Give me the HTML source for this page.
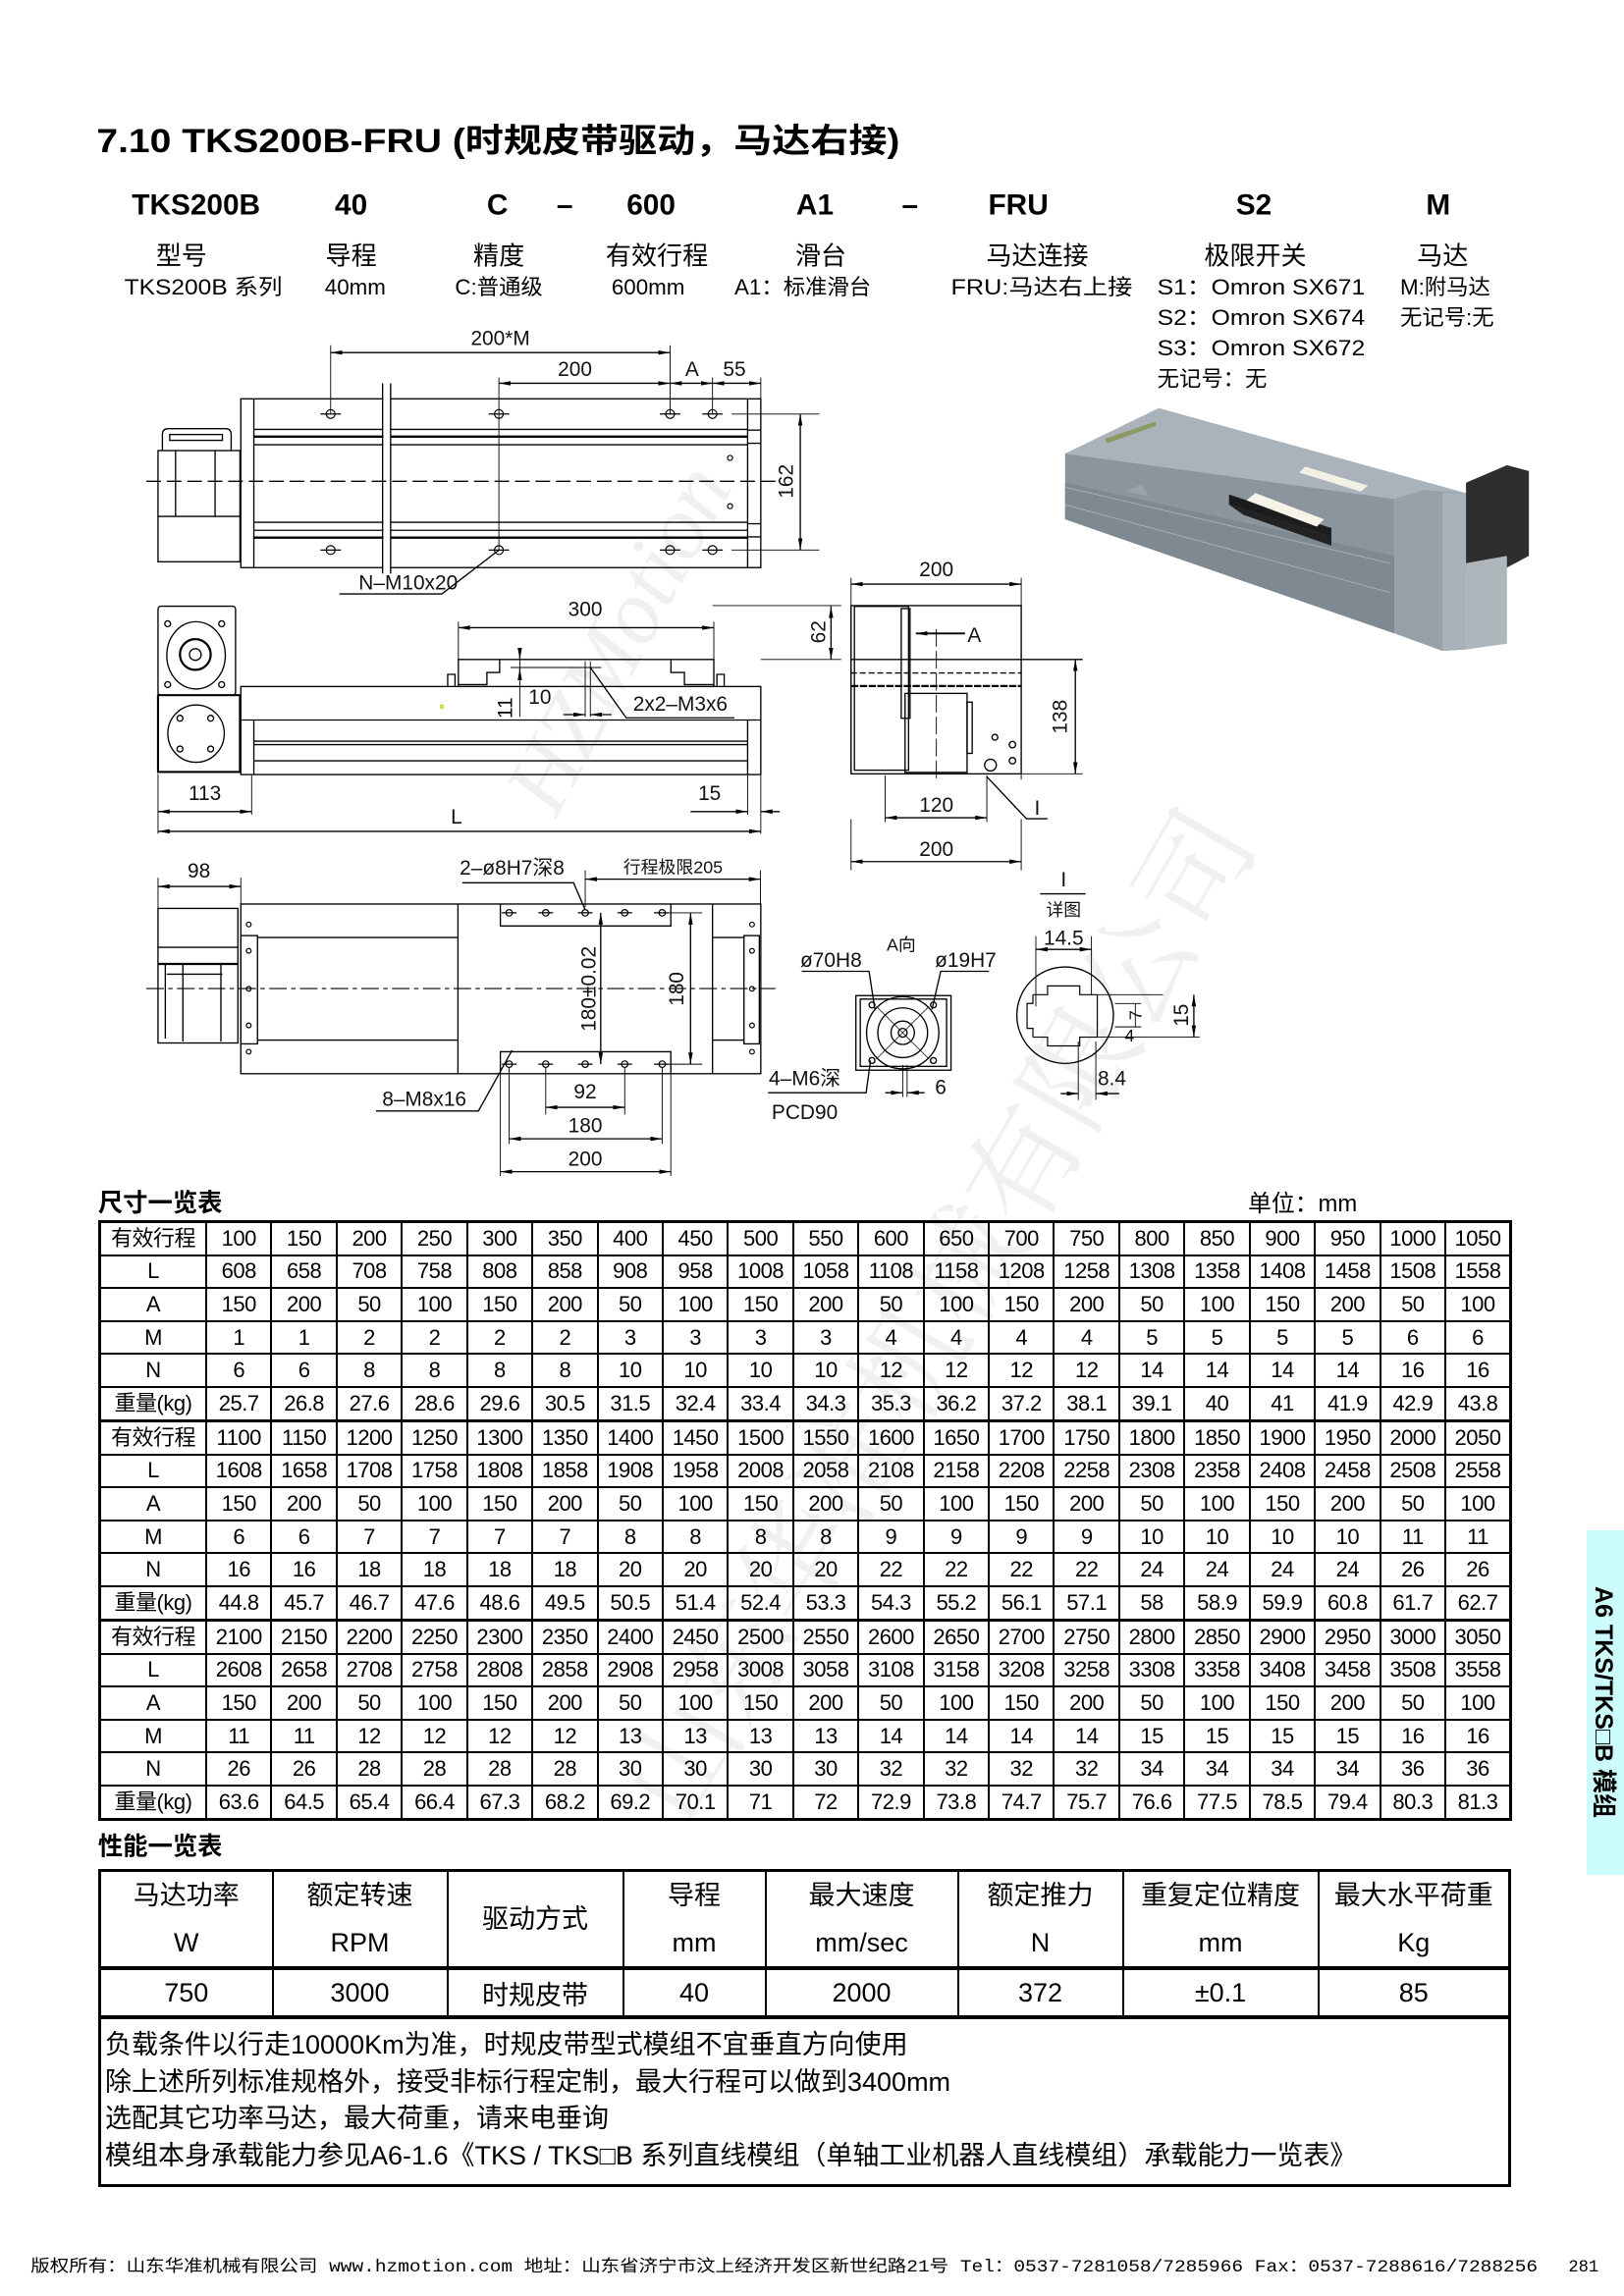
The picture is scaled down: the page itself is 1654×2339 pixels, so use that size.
<!DOCTYPE html>
<html><head><meta charset="utf-8">
<style>
html,body{margin:0;padding:0;background:#fff;}
#pg{position:relative;width:1654px;height:2339px;overflow:hidden;background:#fff;font-family:"Liberation Sans","Noto Sans CJK SC",sans-serif;color:#000;}
svg{position:absolute;left:0;top:0;}
table{position:absolute;border-collapse:collapse;font-family:"Liberation Sans","Noto Sans CJK SC",sans-serif;}
.dt{left:100px;width:1440px;border:3px solid #000;table-layout:fixed;font-size:22px;}
.dt td{border:2px solid #000;text-align:center;padding:0;height:31.6px;line-height:20px;white-space:nowrap;letter-spacing:-0.5px;}
.dt td:first-child{width:106px;}
.pt{left:100px;top:1904px;width:1436px;border:3px solid #000;table-layout:fixed;font-size:27px;}
.pt td{border:2px solid #000;text-align:center;padding:0;}
.pt tr.h td{height:96px;line-height:48px;}
.pt tr.v td{height:46px;border-top:4px solid #000;}
.pt tr.n td{height:160px;text-align:left;vertical-align:top;padding:8px 0 0 4px;line-height:37.5px;border-top:4px solid #000;font-size:27px;}
#tab{position:absolute;left:1616px;top:1559px;width:38px;height:351px;background:#ccfbfb;}
#tab div{position:absolute;left:19px;top:175px;transform:translate(-50%,-50%) rotate(90deg);white-space:nowrap;font-size:25px;font-weight:bold;}
</style></head><body><div id="pg">

<svg width="1654" height="2339" viewBox="0 0 1110 1569.6" font-family="Liberation Sans, Noto Sans CJK SC, sans-serif">
<defs>
<marker id="ar" markerUnits="userSpaceOnUse" markerWidth="8" markerHeight="3" refX="8" refY="1.5" orient="auto-start-reverse"><path d="M0,0 L8,1.5 L0,3 z" fill="#000"/></marker>
</defs>
<!-- watermark -->
<g fill="#f0f0f0" font-family="Liberation Serif, Noto Serif CJK SC, serif" font-style="italic">
<text x="0" y="0" font-size="62" transform="translate(380,560) rotate(-62)">HZMotion</text>
<text x="0" y="0" font-size="78" transform="translate(470,1250) rotate(-60)" font-style="normal">山东华准机械有限公司</text>
</g>

<!-- header -->
<text x="66" y="104" font-size="23" font-weight="bold" textLength="549" lengthAdjust="spacingAndGlyphs">7.10 TKS200B-FRU (时规皮带驱动，马达右接)</text>
<g font-size="20" font-weight="bold" text-anchor="middle">
<text x="134" y="146.5">TKS200B</text><text x="240" y="146.5">40</text><text x="340" y="146.5">C</text><text x="386" y="146.5">–</text><text x="445" y="146.5">600</text><text x="557" y="146.5">A1</text><text x="622" y="146.5">–</text><text x="696" y="146.5">FRU</text><text x="857" y="146.5">S2</text><text x="983" y="146.5">M</text>
</g>
<g font-size="17.5" text-anchor="middle">
<text x="124" y="180.7">型号</text><text x="240" y="180.7">导程</text><text x="341" y="180.7">精度</text><text x="449" y="180.7">有效行程</text><text x="561" y="180.7">滑台</text><text x="709" y="180.7">马达连接</text><text x="858" y="180.7">极限开关</text><text x="986" y="180.7">马达</text>
</g>
<g font-size="15">
<text x="85" y="201.3" textLength="108" lengthAdjust="spacingAndGlyphs">TKS200B 系列</text><text x="222" y="201.3">40mm</text><text x="311" y="201.3">C:普通级</text><text x="418" y="201.3">600mm</text><text x="502" y="201.3">A1：标准滑台</text><text x="650" y="201.3" textLength="124" lengthAdjust="spacingAndGlyphs">FRU:马达右上接</text>
<text x="791" y="201.3" textLength="142" lengthAdjust="spacingAndGlyphs">S1：Omron SX671</text>
<text x="791" y="222" textLength="142" lengthAdjust="spacingAndGlyphs">S2：Omron SX674</text>
<text x="791" y="243" textLength="142" lengthAdjust="spacingAndGlyphs">S3：Omron SX672</text>
<text x="791" y="264">无记号：无</text>
<text x="957" y="201.3">M:附马达</text><text x="957" y="222">无记号:无</text>
</g>

<g fill="none" stroke="#000" stroke-width="0.9">
<!-- ===== top view ===== -->
<path d="M111,308 L111,297 Q111,293 115,293 L154,293 Q158,293 158,297 L158,308"/>
<rect x="116" y="297" width="36" height="4"/>
<rect x="108" y="308" width="56" height="76"/>
<line x1="108" y1="353" x2="164" y2="353"/>
<line x1="120" y1="308" x2="120" y2="353"/><line x1="147" y1="308" x2="147" y2="353"/>
<rect x="164.6" y="272.6" width="355.4" height="115.4"/>
<line x1="173.5" y1="272.6" x2="173.5" y2="388"/><line x1="511" y1="272.6" x2="511" y2="388"/>
<line x1="173.5" y1="293.5" x2="511" y2="293.5"/><line x1="173.5" y1="298.5" x2="511" y2="298.5" stroke-width="1.6"/><line x1="173.5" y1="304" x2="511" y2="304"/>
<line x1="173.5" y1="357" x2="511" y2="357"/><line x1="173.5" y1="362.5" x2="511" y2="362.5"/><line x1="173.5" y1="367.5" x2="511" y2="367.5" stroke-width="1.6"/>
<line x1="511" y1="294" x2="520" y2="294"/><line x1="511" y1="303" x2="520" y2="303"/><line x1="511" y1="358" x2="520" y2="358"/><line x1="511" y1="367" x2="520" y2="367"/>
<rect x="262" y="262" width="5" height="130" fill="#fff" stroke="none"/>
<line x1="261.5" y1="262" x2="261.5" y2="392"/><line x1="267" y1="262" x2="267" y2="392"/>
<g stroke-width="0.8">
<circle cx="226" cy="283" r="3"/><circle cx="341" cy="283" r="3"/><circle cx="458" cy="283" r="3"/><circle cx="487" cy="283" r="3"/>
<circle cx="226" cy="376" r="3"/><circle cx="341" cy="376" r="3"/><circle cx="458" cy="376" r="3"/><circle cx="487" cy="376" r="3"/>
<path d="M219,283h14M334,283h14M451,283h14M480,283h14M219,376h14M334,376h14M451,376h14M480,376h14"/>
<circle cx="499" cy="313" r="1.7"/><circle cx="499" cy="346" r="1.7"/>
</g>
<line x1="100" y1="329" x2="532" y2="329" stroke-dasharray="10,4"/>
<path d="M226,236V283M341,258V376M458,236V283M487,258V283M520,258V273M500,283H560M500,376H560" stroke-width="0.6"/>
<line x1="226" y1="241" x2="458" y2="241" marker-start="url(#ar)" marker-end="url(#ar)"/>
<line x1="341" y1="262" x2="458" y2="262" marker-start="url(#ar)" marker-end="url(#ar)"/>
<line x1="458" y1="262" x2="487" y2="262" marker-start="url(#ar)" marker-end="url(#ar)"/>
<line x1="487" y1="262" x2="520" y2="262" marker-start="url(#ar)" marker-end="url(#ar)"/>
<line x1="547" y1="283" x2="547" y2="376" marker-start="url(#ar)" marker-end="url(#ar)"/>
<path d="M341,376 L302,406 L232,406"/>

<!-- ===== side view ===== -->
<rect x="108" y="414.4" width="53" height="60.8" rx="2"/>
<ellipse cx="134" cy="448" rx="20" ry="23"/>
<circle cx="133.5" cy="447.4" r="10.5" stroke-width="1.5"/><circle cx="133.5" cy="447.4" r="4"/>
<circle cx="114.6" cy="426.4" r="2"/><circle cx="151.5" cy="426.4" r="2"/><circle cx="114.6" cy="468" r="2"/><circle cx="151.5" cy="468" r="2"/>
<rect x="108" y="475.2" width="56" height="52.5" stroke-width="1.4"/>
<ellipse cx="134" cy="501.5" rx="19.3" ry="19.6"/>
<circle cx="123" cy="491" r="2"/><circle cx="144" cy="491" r="2"/><circle cx="123" cy="512" r="2"/><circle cx="144" cy="512" r="2"/>
<rect x="164.6" y="469.3" width="355.4" height="60.2"/>
<line x1="164.6" y1="492.2" x2="520" y2="492.2"/>
<line x1="173.5" y1="506.7" x2="511" y2="506.7"/><line x1="173.5" y1="509" x2="511" y2="509"/><line x1="173.5" y1="520.1" x2="511" y2="520.1"/>
<line x1="173.5" y1="492.2" x2="173.5" y2="529.5"/><line x1="511" y1="492.2" x2="511" y2="529.5"/>
<path d="M313.3,469.3 V450.8 H487.9 V469.3"/>
<path d="M313.3,468 H332.8 V459.7 H341.5 V450.8 M458.6,450.8 V459.7 H467.8 V468 H487.9"/>
<path d="M306,469 v-8 h5 v8 M490,469 v-8 h5 v8"/>
<circle cx="302" cy="483" r="1" stroke="#cc0"/>
<path d="M313.3,425V450.8M487.9,425V450.8M487,414H575M520,450.8H575M400,452V490M403.5,452V490M349,456.3H411M355.3,443V490" stroke-width="0.6"/>
<line x1="313.3" y1="429.1" x2="487.9" y2="429.1" marker-start="url(#ar)" marker-end="url(#ar)"/>
<line x1="568" y1="414.4" x2="568" y2="450.8" marker-start="url(#ar)" marker-end="url(#ar)"/>
<line x1="355.3" y1="443" x2="355.3" y2="450.8" marker-end="url(#ar)"/><line x1="355.3" y1="465" x2="355.3" y2="457" marker-end="url(#ar)"/>
<line x1="385" y1="488.5" x2="400" y2="488.5" marker-end="url(#ar)"/><line x1="418" y1="488.5" x2="403.5" y2="488.5" marker-end="url(#ar)"/>
<path d="M403.5,456.3 L428,490.7 H502"/>
<path d="M108,529V570M172,530V557M511,530V557M520,530V570" stroke-width="0.6"/>
<line x1="108" y1="554.8" x2="172" y2="554.8" marker-start="url(#ar)" marker-end="url(#ar)"/>
<line x1="108" y1="568.3" x2="520" y2="568.3" marker-start="url(#ar)" marker-end="url(#ar)"/>
<line x1="472" y1="554.8" x2="511" y2="554.8" marker-end="url(#ar)"/><line x1="533" y1="554.8" x2="520" y2="554.8" marker-end="url(#ar)"/>

<!-- ===== front view ===== -->
<rect x="581.7" y="414" width="116.3" height="115"/>
<rect x="584" y="414.5" width="37" height="112"/>
<rect x="616" y="416" width="6" height="75"/>
<rect x="618.6" y="474" width="42.4" height="54"/>
<rect x="661" y="480" width="3.5" height="35"/>
<line x1="581.7" y1="450.8" x2="740" y2="450.8"/>
<line x1="581.7" y1="460" x2="698" y2="460" stroke-dasharray="4,2"/>
<line x1="581.7" y1="469" x2="698" y2="469" stroke-dasharray="5,1" stroke-width="1.5"/>
<line x1="640" y1="430" x2="640" y2="535" stroke-dasharray="12,3" stroke-width="0.6"/>
<circle cx="692" cy="509" r="2.2"/><circle cx="692" cy="520" r="2.2"/><circle cx="677" cy="523" r="4"/><circle cx="680" cy="504" r="2"/>
<path d="M581.7,395V529M698,395V533M605,530V562M674.5,530V562M581.7,560V595M698,560V595M698,529H740" stroke-width="0.6"/>
<line x1="581.7" y1="399.3" x2="698" y2="399.3" marker-start="url(#ar)" marker-end="url(#ar)"/>
<line x1="605" y1="559" x2="674.5" y2="559" marker-start="url(#ar)" marker-end="url(#ar)"/>
<line x1="581.7" y1="589" x2="698" y2="589" marker-start="url(#ar)" marker-end="url(#ar)"/>
<line x1="735" y1="450.8" x2="735" y2="529" marker-start="url(#ar)" marker-end="url(#ar)"/>
<line x1="659.6" y1="433" x2="626" y2="433" marker-end="url(#ar)" stroke-width="1.3"/>
<path d="M674.5,531 L701.6,559.7 H716"/>

<!-- ===== bottom view ===== -->
<rect x="108" y="621" width="54.6" height="92"/>
<line x1="108" y1="647.6" x2="162.6" y2="647.6"/><line x1="108" y1="659" x2="162.6" y2="659" stroke-width="1.5"/>
<path d="M113,659 V710 M125,659 V712 M151,659 V712 M114,666 H152"/>
<rect x="164.6" y="618" width="355.4" height="116"/>
<rect x="164.6" y="639.6" width="11.4" height="74"/><rect x="508.5" y="639.6" width="10.5" height="74"/>
<line x1="313" y1="618" x2="313" y2="734"/><line x1="487" y1="618" x2="487" y2="734"/>
<line x1="176" y1="640.9" x2="313" y2="640.9"/><line x1="176" y1="711" x2="313" y2="711"/>
<line x1="487" y1="640.9" x2="508.5" y2="640.9"/><line x1="487" y1="711" x2="508.5" y2="711"/>
<path d="M342,618 V633 H458.5 V618 M342,734 V719 H458.5 V734"/>
<g stroke-width="0.8">
<circle cx="348" cy="624" r="2.2"/><circle cx="373" cy="624" r="2.2"/><circle cx="400" cy="624" r="2.2"/><circle cx="427" cy="624" r="2.2"/><circle cx="452.6" cy="624" r="2.2"/>
<circle cx="348" cy="727.5" r="2.2"/><circle cx="373" cy="727.5" r="2.2"/><circle cx="400" cy="727.5" r="2.2"/><circle cx="427" cy="727.5" r="2.2"/><circle cx="452.6" cy="727.5" r="2.2"/>
<circle cx="170" cy="632" r="1.6"/><circle cx="170" cy="650" r="1.6"/><circle cx="170" cy="676" r="1.6"/><circle cx="170" cy="701" r="1.6"/><circle cx="170" cy="719" r="1.6"/>
<circle cx="514" cy="632" r="1.6"/><circle cx="514" cy="650" r="1.6"/><circle cx="514" cy="676" r="1.6"/><circle cx="514" cy="701" r="1.6"/><circle cx="514" cy="719" r="1.6"/>
<path d="M343,624h10M368,624h10M395,624h10M422,624h10M447,624h10M343,727.5h10M368,727.5h10M395,727.5h10M422,727.5h10M447,727.5h10"/>
</g>
<line x1="100" y1="675.8" x2="530" y2="675.8" stroke-dasharray="12,3,3,3" stroke-width="0.7"/>
<path d="M108,600V621M164.6,600V618M400,595V620M519.8,595V618M373,730V762M427,730V762M348,730V782M452.6,730V782M342,734V804M458.5,734V804M455,624H480M455,727.5H480" stroke-width="0.6"/>
<line x1="108" y1="606" x2="164.6" y2="606" marker-start="url(#ar)" marker-end="url(#ar)"/>
<line x1="400" y1="601" x2="519.8" y2="601" marker-start="url(#ar)" marker-end="url(#ar)"/>
<line x1="410.6" y1="624" x2="410.6" y2="727.5" marker-start="url(#ar)" marker-end="url(#ar)"/>
<line x1="472" y1="624" x2="472" y2="727.5" marker-start="url(#ar)" marker-end="url(#ar)"/>
<line x1="373" y1="757" x2="427" y2="757" marker-start="url(#ar)" marker-end="url(#ar)"/>
<line x1="348" y1="778.5" x2="452.6" y2="778.5" marker-start="url(#ar)" marker-end="url(#ar)"/>
<line x1="342" y1="801" x2="458.5" y2="801" marker-start="url(#ar)" marker-end="url(#ar)"/>
<path d="M316,603.5 H392 L400,622"/>
<path d="M257,759.5 H327 L350,718"/>

<!-- ===== A view ===== -->
<rect x="585" y="680.6" width="65" height="51"/>
<rect x="588" y="683" width="59" height="46"/>
<circle cx="617" cy="706" r="24.7"/><circle cx="617" cy="706" r="17"/><circle cx="617" cy="706" r="8"/><circle cx="617" cy="706" r="3"/>
<path d="M599,688 L635,724 M635,688 L599,724" stroke-width="0.5"/>
<circle cx="596" cy="687" r="2"/><circle cx="638" cy="687" r="2"/><circle cx="596" cy="725" r="2"/><circle cx="638" cy="725" r="2"/>
<path d="M548,664 H594 L598,690 M637,690 L643,664 H676"/>
<path d="M525,747 H592 L595,725"/>
<path d="M617,728 V750 M620,728 V750" stroke-width="0.6"/>
<line x1="605" y1="747" x2="617" y2="747" marker-end="url(#ar)"/><line x1="632" y1="747" x2="620" y2="747" marker-end="url(#ar)"/>

<!-- ===== detail I ===== -->
<line x1="711" y1="611" x2="742" y2="611"/>
<circle cx="728" cy="694" r="33"/>
<path d="M706,680 H716 V674 H738 V680 H750 M706,680 V686 H702 V703 H706 V709 M750,680 V709 M706,709 H716 V715 H738 V709 H750" stroke-width="0.8"/>
<path d="M708,640V688M746,640V680M750,680H795M750,709H820M762,686H780M762,702H780" stroke-width="0.6"/>
<line x1="708" y1="649" x2="746" y2="649" marker-start="url(#ar)" marker-end="url(#ar)"/>
<line x1="816" y1="680" x2="816" y2="709" marker-start="url(#ar)" marker-end="url(#ar)"/>
<line x1="776" y1="686" x2="776" y2="702" stroke-width="0.6"/>
<path d="M737,712V752M749,712V752" stroke-width="0.6"/>
<line x1="725" y1="747.6" x2="737" y2="747.6" marker-end="url(#ar)"/><line x1="765" y1="747.6" x2="749" y2="747.6" marker-end="url(#ar)"/>
</g>

<!-- drawing labels -->
<g font-size="14" fill="#111" text-anchor="middle">
<text x="342" y="236">200*M</text><text x="393" y="257">200</text><text x="473" y="257">A</text><text x="502" y="257">55</text>
<text transform="translate(542,329) rotate(-90)">162</text>
<text x="279" y="403">N–M10x20</text>
<text x="400" y="421">300</text>
<text transform="translate(564,432) rotate(-90)">62</text>
<text transform="translate(350,484) rotate(-90)">11</text>
<text x="369" y="481">10</text>
<text x="465" y="486">2x2–M3x6</text>
<text x="140" y="547">113</text><text x="312" y="563">L</text><text x="485" y="547">15</text>
<text x="640" y="394">200</text><text x="640" y="554.8">120</text><text x="640" y="585">200</text>
<text transform="translate(729,490) rotate(-90)">138</text>
<text x="666" y="439">A</text><text x="709" y="557">I</text>
<text x="136" y="600">98</text>
<text x="350" y="598">2–ø8H7深8</text>
<text x="460" y="597" font-size="12">行程极限205</text>
<text transform="translate(407,676) rotate(-90)">180±0.02</text>
<text transform="translate(467,676) rotate(-90)">180</text>
<text x="290" y="755.8">8–M8x16</text>
<text x="400" y="751">92</text><text x="400" y="774">180</text><text x="400" y="797">200</text>
<text x="568" y="661">ø70H8</text><text x="616" y="650" font-size="12">A向</text><text x="660" y="661">ø19H7</text>
<text x="550" y="742">4–M6深</text><text x="550" y="765">PCD90</text><text x="643" y="748">6</text>
<text x="727" y="606">I</text><text x="727" y="626" font-size="12">详图</text><text x="727" y="646">14.5</text>
<text transform="translate(812,694) rotate(-90)">15</text>
<text transform="translate(780,694) rotate(-90)" font-size="12">7</text>
<text x="772" y="712" font-size="12">4</text>
<text x="760" y="742">8.4</text>
</g>

<!-- 3D image -->
<g stroke="none">
<polygon points="728,310 792,279 1002,337 953,341" fill="#aab3bb"/>
<polygon points="728,310 953,341 953,433 728,355" fill="#8b959d"/>
<polygon points="728,330 953,380 953,433 728,355" fill="#7f8991"/>
<polygon points="953,341 973,335 1002,337 1002,444 986,445 953,433" fill="#97a1a9"/>
<polygon points="986,337 1002,337 1002,444 986,445" fill="#a9b2b9"/>
<polygon points="1002,330 1030,318 1045,322 1045,380 1030,388 1002,390" fill="#2e2e2e"/>
<polygon points="1002,385 1030,380 1030,440 1002,444" fill="#aeb6bc"/>
<polygon points="840,338 910,361 910,367 840,345" fill="#1c1c1c"/>
<polygon points="840,345 910,367 910,373 850,352" fill="#222"/>
<polygon points="858,337 905,355 900,360 852,342" fill="#f6f4e8"/>
<polygon points="892,319 935,332 930,336 888,323" fill="#f3f1e6"/>
<polygon points="770,336 780,331 785,339" fill="#9aa3ab"/>
<line x1="728" y1="333" x2="950" y2="385" stroke="#aab2b8" stroke-width="0.6"/>
<line x1="728" y1="345" x2="950" y2="405" stroke="#aab2b8" stroke-width="0.6"/>
<polygon points="755,300 790,288 790,291 757,303" fill="#8a9a60"/>
</g>

<!-- table titles -->
<text x="67" y="828" font-size="17" font-weight="bold">尺寸一览表</text>
<text x="853" y="828" font-size="16">单位：mm</text>
<text x="67" y="1268" font-size="17" font-weight="bold">性能一览表</text>

<!-- footer -->
<text x="21" y="1553" font-size="11.5" font-family="Liberation Mono, Noto Sans CJK SC, monospace" textLength="1030" lengthAdjust="spacingAndGlyphs">版权所有：山东华准机械有限公司 www.hzmotion.com   地址：山东省济宁市汶上经济开发区新世纪路21号  Tel：0537-7281058/7285966 Fax：0537-7288616/7288256</text>
<text x="1072" y="1553" font-size="11.5" font-family="Liberation Mono, monospace">281</text>
</svg>

<table class="dt" style="top:1243px">
<tr><td>有效行程</td><td>100</td><td>150</td><td>200</td><td>250</td><td>300</td><td>350</td><td>400</td><td>450</td><td>500</td><td>550</td><td>600</td><td>650</td><td>700</td><td>750</td><td>800</td><td>850</td><td>900</td><td>950</td><td>1000</td><td>1050</td></tr>
<tr><td>L</td><td>608</td><td>658</td><td>708</td><td>758</td><td>808</td><td>858</td><td>908</td><td>958</td><td>1008</td><td>1058</td><td>1108</td><td>1158</td><td>1208</td><td>1258</td><td>1308</td><td>1358</td><td>1408</td><td>1458</td><td>1508</td><td>1558</td></tr>
<tr><td>A</td><td>150</td><td>200</td><td>50</td><td>100</td><td>150</td><td>200</td><td>50</td><td>100</td><td>150</td><td>200</td><td>50</td><td>100</td><td>150</td><td>200</td><td>50</td><td>100</td><td>150</td><td>200</td><td>50</td><td>100</td></tr>
<tr><td>M</td><td>1</td><td>1</td><td>2</td><td>2</td><td>2</td><td>2</td><td>3</td><td>3</td><td>3</td><td>3</td><td>4</td><td>4</td><td>4</td><td>4</td><td>5</td><td>5</td><td>5</td><td>5</td><td>6</td><td>6</td></tr>
<tr><td>N</td><td>6</td><td>6</td><td>8</td><td>8</td><td>8</td><td>8</td><td>10</td><td>10</td><td>10</td><td>10</td><td>12</td><td>12</td><td>12</td><td>12</td><td>14</td><td>14</td><td>14</td><td>14</td><td>16</td><td>16</td></tr>
<tr><td>重量(kg)</td><td>25.7</td><td>26.8</td><td>27.6</td><td>28.6</td><td>29.6</td><td>30.5</td><td>31.5</td><td>32.4</td><td>33.4</td><td>34.3</td><td>35.3</td><td>36.2</td><td>37.2</td><td>38.1</td><td>39.1</td><td>40</td><td>41</td><td>41.9</td><td>42.9</td><td>43.8</td></tr>
</table>
<table class="dt" style="top:1446px">
<tr><td>有效行程</td><td>1100</td><td>1150</td><td>1200</td><td>1250</td><td>1300</td><td>1350</td><td>1400</td><td>1450</td><td>1500</td><td>1550</td><td>1600</td><td>1650</td><td>1700</td><td>1750</td><td>1800</td><td>1850</td><td>1900</td><td>1950</td><td>2000</td><td>2050</td></tr>
<tr><td>L</td><td>1608</td><td>1658</td><td>1708</td><td>1758</td><td>1808</td><td>1858</td><td>1908</td><td>1958</td><td>2008</td><td>2058</td><td>2108</td><td>2158</td><td>2208</td><td>2258</td><td>2308</td><td>2358</td><td>2408</td><td>2458</td><td>2508</td><td>2558</td></tr>
<tr><td>A</td><td>150</td><td>200</td><td>50</td><td>100</td><td>150</td><td>200</td><td>50</td><td>100</td><td>150</td><td>200</td><td>50</td><td>100</td><td>150</td><td>200</td><td>50</td><td>100</td><td>150</td><td>200</td><td>50</td><td>100</td></tr>
<tr><td>M</td><td>6</td><td>6</td><td>7</td><td>7</td><td>7</td><td>7</td><td>8</td><td>8</td><td>8</td><td>8</td><td>9</td><td>9</td><td>9</td><td>9</td><td>10</td><td>10</td><td>10</td><td>10</td><td>11</td><td>11</td></tr>
<tr><td>N</td><td>16</td><td>16</td><td>18</td><td>18</td><td>18</td><td>18</td><td>20</td><td>20</td><td>20</td><td>20</td><td>22</td><td>22</td><td>22</td><td>22</td><td>24</td><td>24</td><td>24</td><td>24</td><td>26</td><td>26</td></tr>
<tr><td>重量(kg)</td><td>44.8</td><td>45.7</td><td>46.7</td><td>47.6</td><td>48.6</td><td>49.5</td><td>50.5</td><td>51.4</td><td>52.4</td><td>53.3</td><td>54.3</td><td>55.2</td><td>56.1</td><td>57.1</td><td>58</td><td>58.9</td><td>59.9</td><td>60.8</td><td>61.7</td><td>62.7</td></tr>
</table>
<table class="dt" style="top:1649px">
<tr><td>有效行程</td><td>2100</td><td>2150</td><td>2200</td><td>2250</td><td>2300</td><td>2350</td><td>2400</td><td>2450</td><td>2500</td><td>2550</td><td>2600</td><td>2650</td><td>2700</td><td>2750</td><td>2800</td><td>2850</td><td>2900</td><td>2950</td><td>3000</td><td>3050</td></tr>
<tr><td>L</td><td>2608</td><td>2658</td><td>2708</td><td>2758</td><td>2808</td><td>2858</td><td>2908</td><td>2958</td><td>3008</td><td>3058</td><td>3108</td><td>3158</td><td>3208</td><td>3258</td><td>3308</td><td>3358</td><td>3408</td><td>3458</td><td>3508</td><td>3558</td></tr>
<tr><td>A</td><td>150</td><td>200</td><td>50</td><td>100</td><td>150</td><td>200</td><td>50</td><td>100</td><td>150</td><td>200</td><td>50</td><td>100</td><td>150</td><td>200</td><td>50</td><td>100</td><td>150</td><td>200</td><td>50</td><td>100</td></tr>
<tr><td>M</td><td>11</td><td>11</td><td>12</td><td>12</td><td>12</td><td>12</td><td>13</td><td>13</td><td>13</td><td>13</td><td>14</td><td>14</td><td>14</td><td>14</td><td>15</td><td>15</td><td>15</td><td>15</td><td>16</td><td>16</td></tr>
<tr><td>N</td><td>26</td><td>26</td><td>28</td><td>28</td><td>28</td><td>28</td><td>30</td><td>30</td><td>30</td><td>30</td><td>32</td><td>32</td><td>32</td><td>32</td><td>34</td><td>34</td><td>34</td><td>34</td><td>36</td><td>36</td></tr>
<tr><td>重量(kg)</td><td>63.6</td><td>64.5</td><td>65.4</td><td>66.4</td><td>67.3</td><td>68.2</td><td>69.2</td><td>70.1</td><td>71</td><td>72</td><td>72.9</td><td>73.8</td><td>74.7</td><td>75.7</td><td>76.6</td><td>77.5</td><td>78.5</td><td>79.4</td><td>80.3</td><td>81.3</td></tr>
</table>

<table class="pt">
<colgroup><col style="width:176px"><col style="width:178px"><col style="width:179px"><col style="width:145px"><col style="width:196px"><col style="width:168px"><col style="width:199px"><col style="width:195px"></colgroup>
<tr class="h"><td>马达功率<br>W</td><td>额定转速<br>RPM</td><td>驱动方式</td><td>导程<br>mm</td><td>最大速度<br>mm/sec</td><td>额定推力<br>N</td><td>重复定位精度<br>mm</td><td>最大水平荷重<br>Kg</td></tr>
<tr class="v"><td>750</td><td>3000</td><td>时规皮带</td><td>40</td><td>2000</td><td>372</td><td>±0.1</td><td>85</td></tr>
<tr class="n"><td colspan="8">负载条件以行走10000Km为准，时规皮带型式模组不宜垂直方向使用<br>除上述所列标准规格外，接受非标行程定制，最大行程可以做到3400mm<br>选配其它功率马达，最大荷重，请来电垂询<br>模组本身承载能力参见A6-1.6《TKS / TKS□B 系列直线模组（单轴工业机器人直线模组）承载能力一览表》</td></tr>
</table>

<div id="tab"><div>A6 TKS/TKS□B 模组</div></div>
</div></body></html>
